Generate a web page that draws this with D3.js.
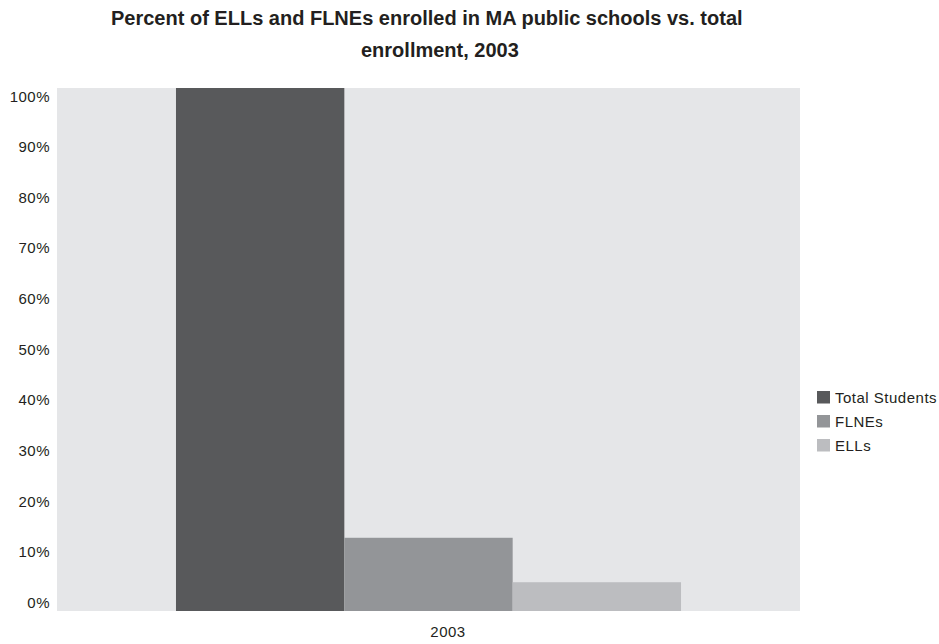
<!DOCTYPE html>
<html>
<head>
<meta charset="utf-8">
<script src="https://cdn.jsdelivr.net/npm/d3@7"></script>
<style>
  body { margin: 0; background: #fff; }
  svg { display: block; font-family: "Liberation Sans", Arial, Helvetica, sans-serif; }
</style>
</head>
<body>
<svg id="chart" width="939" height="644"></svg>
<script>
// Enrollment shares, 2003
const categories = ["2003"];
const seriesNames = ["Total Students", "FLNEs", "ELLs"];
const seriesValues = [100, 14, 5.5];
const seriesColors = ["#58595b", "#939598", "#bcbdc0"];
const tickValues = [0, 10, 20, 30, 40, 50, 60, 70, 80, 90, 100];
const tickLabels = tickValues.map(v => v + "%");

const svg = d3.select("#chart");
const plot = { left: 57, right: 800, top: 88, bottom: 611 };
const textColor = "#231f20";

// Plot background
svg.append("rect")
  .attr("x", plot.left).attr("y", plot.top)
  .attr("width", plot.right - plot.left).attr("height", plot.bottom - plot.top)
  .attr("fill", "#e5e6e8");

const y = d3.scaleLinear().domain([0, 100]).range([plot.bottom, plot.top]);
// Tick labels sit slightly inside the plot extent
const yLabel = d3.scaleLinear().domain([0, 100]).range([602.5, 96.2]);

const x0 = d3.scaleBand().domain(categories).range([plot.left, plot.right]).paddingInner(0).paddingOuter(0.2356);
const x1 = d3.scaleBand().domain(seriesNames).range([0, x0.bandwidth()]);

const groups = svg.append("g").selectAll("g").data(categories).join("g")
  .attr("transform", d => `translate(${x0(d)},0)`);

groups.selectAll("rect")
  .data(() => seriesNames.map((s, i) => ({ s, v: seriesValues[i], c: seriesColors[i] })))
  .join("rect")
  .attr("x", d => x1(d.s))
  .attr("width", x1.bandwidth())
  .attr("y", d => y(d.v))
  .attr("height", d => y(0) - y(d.v))
  .attr("fill", d => d.c);

// Y axis labels
const yAxis = d3.axisLeft(yLabel).tickValues(tickValues).tickFormat((d, i) => tickLabels[i]).tickSize(0).tickPadding(0);
const ya = svg.append("g").attr("transform", "translate(50,0)").call(yAxis);
ya.select(".domain").remove();
ya.selectAll("text")
  .attr("font-size", 15).attr("letter-spacing", 0.5)
  .attr("fill", textColor).attr("font-family", "Liberation Sans, Arial, sans-serif");

// X category label
svg.selectAll(".xlab").data(categories).join("text")
  .attr("class", "xlab")
  .attr("x", d => x0(d) + x0.bandwidth() / 2 + 19.5)
  .attr("y", 636.7)
  .attr("text-anchor", "middle")
  .attr("font-size", 15)
  .attr("letter-spacing", 0.5)
  .attr("fill", textColor)
  .text(d => d);

// Title
const title = svg.append("g")
  .attr("font-weight", "bold")
  .attr("font-size", 20)
  .attr("fill", textColor);
title.append("text").attr("x", 111).attr("y", 25)
  .text("Percent of ELLs and FLNEs enrolled in MA public schools vs. total");
title.append("text").attr("x", 361).attr("y", 56.7)
  .text("enrollment, 2003");

// Legend
const legend = svg.append("g").attr("transform", "translate(817,391)");
const items = legend.selectAll("g").data(seriesNames).join("g")
  .attr("transform", (d, i) => `translate(0,${i * 24})`);
items.append("rect").attr("width", 13).attr("height", 12.5).attr("fill", (d, i) => seriesColors[i]);
items.append("text").attr("x", 18).attr("y", 12)
  .attr("font-size", 15).attr("letter-spacing", 0.5)
  .attr("fill", textColor).text(d => d);
</script>
</body>
</html>
